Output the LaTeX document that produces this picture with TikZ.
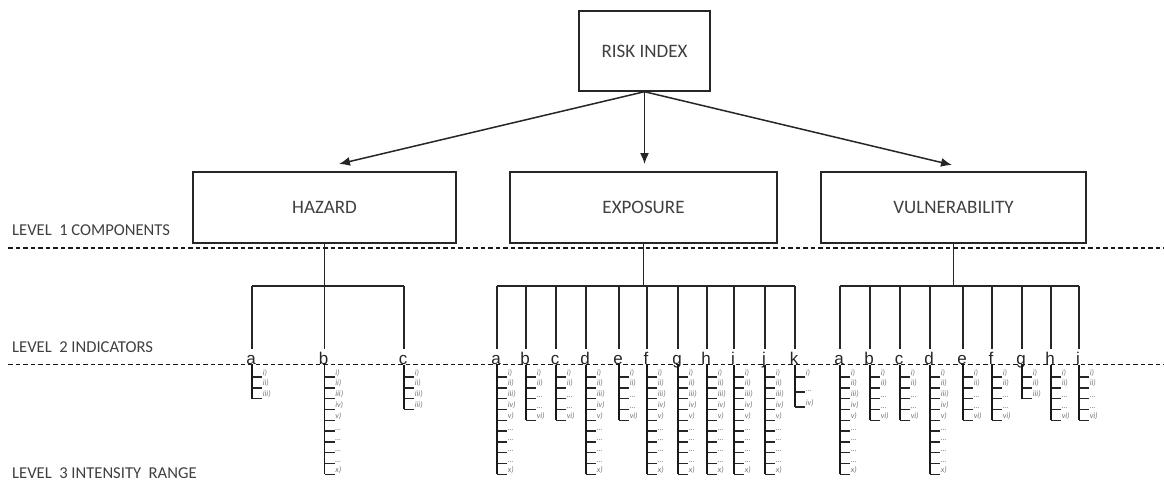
\documentclass[tikz,border=0pt]{standalone}
\usepackage{fontspec}
\setmainfont{Carlito}
\newfontfamily\letfont{Liberation Sans}
\usetikzlibrary{arrows.meta}
\tikzset{
  box/.style={draw=black!85, line width=1.4pt, fill=white, inner sep=0pt, font=\fontsize{19}{19}\selectfont, text=black!75},
  conn/.style={draw=black!85, line width=1.2pt},
  arr/.style={draw=black!85, line width=1.5pt, -{Latex[length=11pt,width=9pt]}},
  sepline/.style={draw=black!90, line width=1.5pt, dash pattern=on 4.5pt off 3pt},
  lvl/.style={anchor=base west, inner sep=0pt, font=\fontsize{16.6}{16.6}\selectfont, text=black!75},
  letter/.style={anchor=base, inner sep=0pt, text height=15pt, font=\letfont\fontsize{17}{17}\selectfont, text=black!85},
  listline/.style={draw=black!90, line width=1.9pt},
  tickline/.style={draw=black!85, line width=1.4pt},
  lab/.style={anchor=south west, inner sep=0.6pt, font=\fontsize{8}{8}\selectfont\itshape, text=black!55},
}
\def\Lten{i),ii),iii),iv),v),\ldots,\ldots,\ldots,\ldots,x)}
\def\Lfive{i),ii),\ldots,\ldots,vi)}
\def\Lthree{i),ii),iii)}
\def\Lfour{i),ii),iii),iii)}
\def\Lk{i),\ldots,iv)}
% #1 name, #2 x, #3 letter, #4 tick spacing, #5 label list macro
\newcommand\indic[5]{%
  \coordinate (#1t) at (#2,286);
  \node[letter] (#1) at (#2-1,364) {#3};
  \draw[conn] (#1t) -- (#1t |- #1.north);
  \foreach \lab [count=\k] in #5 {
    \coordinate (#1-\k) at (#2,{377+(\k-1)*#4});
    \draw[tickline] (#1-\k) -- ++(10,0) coordinate (#1-\k-e);
    \node[lab] (#1-\k-l) at (#1-\k-e) {\lab};
    \xdef\lastk{\k}
  }
  \draw[listline] (#1t |- sepB) -- (#1-\lastk);
}
\begin{document}
\begin{tikzpicture}[x=1pt,y=-1pt]
\useasboundingbox (0,0) rectangle (1164,482);
\fill[white] (0,0) rectangle (1164,482);

% separators
\coordinate (sepA) at (8,248);
\coordinate (sepAe) at (1164,248);
\coordinate (sepB) at (8,364.5);
\coordinate (sepBe) at (1164,364.5);
\draw[sepline] (sepA) -- (sepAe);
\draw[sepline] (sepB) -- (sepBe);

% level labels
\node[lvl] (l1) at (12,235) {LEVEL\ \ 1 COMPONENTS};
\node[lvl] (l2) at (12,352) {LEVEL\ \ 2 INDICATORS};
\node[lvl] (l3) at (12,478) {LEVEL\ \ 3 INTENSITY\ \ RANGE};

% boxes
\node[box, minimum width=131pt, minimum height=80pt] (risk) at (644.5,51) {RISK INDEX};
\node[box, minimum width=263pt, minimum height=71pt] (haz) at (324.5,207.5) {HAZARD};
\node[box, minimum width=267pt, minimum height=71pt] (exp) at (643.5,207.5) {EXPOSURE};
\node[box, minimum width=265pt, minimum height=71pt] (vul) at (953.5,207.5) {VULNERABILITY};

% arrows
\coordinate (hazin) at (339,164);
\coordinate (expin) at (644.5,164);
\coordinate (vulin) at (952,165);
\draw[arr] (risk.south) -- (hazin);
\draw[arr] (risk.south) -- (expin);
\draw[arr] (risk.south) -- (vulin);

% hazard indicators
\indic{Ha}{252}{a}{10.8}{\Lthree}
\indic{Hb}{324.5}{b}{10.8}{\Lten}
\indic{Hc}{404}{c}{10.8}{\Lfour}
\draw[conn] (haz.south) -- (haz.south |- Hbt);
\draw[conn] (Hat) -- (Hct);

% exposure indicators
\indic{Ea}{497}{a}{10.8}{\Lten}
\indic{Eb}{526}{b}{10.8}{\Lfive}
\indic{Ec}{556}{c}{10.8}{\Lfive}
\indic{Ed}{586}{d}{10.8}{\Lten}
\indic{Ee}{619}{e}{10.8}{\Lfive}
\indic{Ef}{647}{f}{10.8}{\Lten}
\indic{Eg}{678}{g}{10.8}{\Lten}
\indic{Eh}{707}{h}{10.8}{\Lten}
\indic{Ei}{734}{i}{10.8}{\Lten}
\indic{Ej}{765}{j}{10.8}{\Lten}
\indic{Ek}{795}{k}{15}{\Lk}
\draw[conn] (exp.south) -- (exp.south |- Eat);
\draw[conn] (Eat) -- (Ekt);

% vulnerability indicators
\indic{Va}{840}{a}{10.8}{\Lten}
\indic{Vb}{870}{b}{10.8}{\Lfive}
\indic{Vc}{900}{c}{10.8}{\Lfive}
\indic{Vd}{930}{d}{10.8}{\Lten}
\indic{Ve}{963}{e}{10.8}{\Lfive}
\indic{Vf}{992}{f}{10.8}{\Lfive}
\indic{Vg}{1022}{g}{10.8}{\Lthree}
\indic{Vh}{1051}{h}{10.8}{\Lfive}
\indic{Vi}{1079}{i}{10.8}{\Lfive}
\draw[conn] (vul.south) -- (vul.south |- Vat);
\draw[conn] (Vat) -- (Vit);
\end{tikzpicture}
\end{document}
